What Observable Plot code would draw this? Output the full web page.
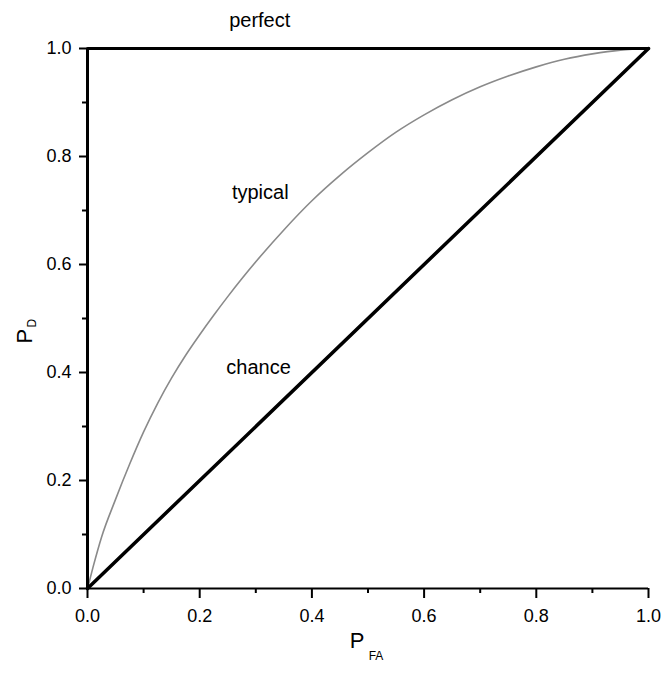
<!DOCTYPE html>
<html>
<head>
<meta charset="utf-8">
<script src="https://cdn.jsdelivr.net/npm/d3@7"></script>
<script src="https://cdn.jsdelivr.net/npm/@observablehq/plot@0.6"></script>
<style>
  html, body { margin: 0; padding: 0; background: #fff; }
</style>
</head>
<body>
<div id="chart"></div>
<script>
// Typical ROC curve
const pfa = [0, 0.01, 0.025, 0.05, 0.075, 0.1, 0.125, 0.15, 0.175, 0.2, 0.225, 0.25, 0.275, 0.3, 0.35, 0.4, 0.45, 0.5, 0.55, 0.6, 0.65, 0.7, 0.75, 0.8, 0.85, 0.9, 0.95, 1];
const pdTypical = [0, 0.04, 0.095, 0.165, 0.23, 0.29, 0.343, 0.39, 0.432, 0.47, 0.506, 0.5405, 0.5735, 0.605, 0.664, 0.718, 0.765, 0.807, 0.845, 0.877, 0.905, 0.929, 0.949, 0.966, 0.98, 0.99, 0.997, 1];
// Chance line
const chanceX = [0, 1];
const chanceY = [0, 1];
// Perfect classifier
const perfectX = [0, 0, 1];
const perfectY = [0, 1, 1];
// Tick values
const majorTicks = [0, 0.2, 0.4, 0.6, 0.8, 1.0];
const minorTicks = [0.1, 0.3, 0.5, 0.7, 0.9];
// Curve annotations
const labelNames = ["perfect", "typical", "chance"];
const labelX = [0.307, 0.308, 0.305];
const labelY = [1.052, 0.733, 0.409];

const typical = pfa.map((x, i) => ({x, y: pdTypical[i]}));
const chance = chanceX.map((x, i) => ({x, y: chanceY[i]}));
const perfect = perfectX.map((x, i) => ({x, y: perfectY[i]}));
const labels = labelNames.map((t, i) => ({t, x: labelX[i], y: labelY[i]}));

const chart = Plot.plot({
  width: 662,
  height: 677,
  marginLeft: 87,
  marginRight: 14,
  marginTop: 48,
  marginBottom: 89,
  x: {domain: [0, 1], label: null},
  y: {domain: [0, 1], label: null},
  style: {fontFamily: "'Liberation Sans', Arial, sans-serif", fontSize: "18px", background: "#fff", color: "#000"},
  marks: [
    Plot.line(typical, {x: "x", y: "y", stroke: "#8a8a8a", strokeWidth: 1.6, curve: "monotone-x"}),
    Plot.line(chance, {x: "x", y: "y", stroke: "#000", strokeWidth: 3.5}),
    Plot.line(perfect, {x: "x", y: "y", stroke: "#000", strokeWidth: 3}),
    Plot.ruleX([0], {stroke: "#000", strokeWidth: 2}),
    Plot.ruleY([0], {stroke: "#000", strokeWidth: 2}),
    Plot.axisX(majorTicks, {tickSize: 10, tickPadding: 11, strokeWidth: 2, tickFormat: d => d.toFixed(1), fontSize: 18, label: null}),
    Plot.axisX(minorTicks, {tickSize: 5, strokeWidth: 2, tickFormat: () => "", label: null}),
    Plot.axisY(majorTicks, {tickSize: 8, tickPadding: 8, strokeWidth: 2, tickFormat: d => d.toFixed(1), fontSize: 18, label: null}),
    Plot.axisY(minorTicks, {tickSize: 5, strokeWidth: 2, tickFormat: () => "", label: null}),
    Plot.text(labels, {x: "x", y: "y", text: "t", fontSize: 20, fill: "#000"}),
    // axis titles P_FA and P_D
    Plot.text(["P"], {frameAnchor: "bottom", dx: -11, dy: 59, fontSize: 22, fill: "#000"}),
    Plot.text(["FA"], {frameAnchor: "bottom", dx: 8, dy: 71, fontSize: 12, fill: "#000"}),
    Plot.text(["P"], {frameAnchor: "left", dx: -63, dy: 25, rotate: -90, fontSize: 22, fill: "#000"}),
    Plot.text(["D"], {frameAnchor: "left", dx: -55, dy: 9, rotate: -90, fontSize: 12, fill: "#000"})
  ]
});
document.getElementById("chart").appendChild(chart);
</script>
</body>
</html>
